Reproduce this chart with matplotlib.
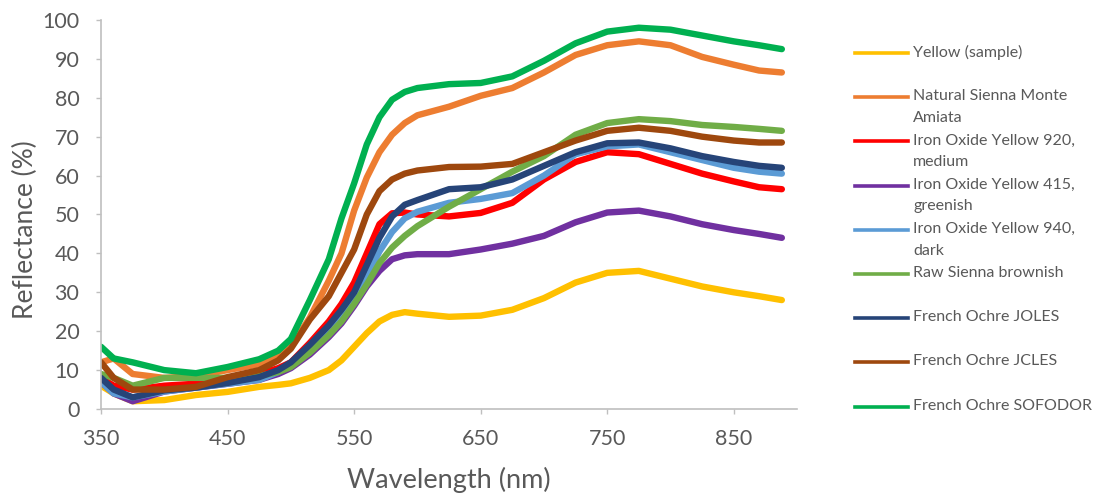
import matplotlib
matplotlib.use("Agg")
import matplotlib.pyplot as plt
from matplotlib.lines import Line2D

# wavelength grid (nm) shared by all series
wavelength = [350, 360, 375, 400, 425, 450, 475, 490, 500, 515, 530, 540, 550, 560, 570,
              580, 590, 600, 625, 650, 675, 700, 725, 750, 775, 800, 825, 850, 870, 888]

yellow_sample = [6, 4, 2, 2.3, 3.6, 4.4, 5.7, 6.2, 6.6, 8, 10, 12.5, 16, 19.5, 22.5,
                 24.2, 24.9, 24.5, 23.7, 24, 25.5, 28.5, 32.5, 35, 35.5, 33.5, 31.5, 30, 29, 28]
natural_sienna = [12, 13, 9, 8, 8.5, 10, 11.5, 13.5, 16, 23.5, 33, 40, 51, 59.5, 66,
                  70.5, 73.5, 75.5, 77.7, 80.5, 82.5, 86.5, 91, 93.5, 94.5, 93.5, 90.5, 88.5, 87, 86.5]
iron_920 = [8, 6, 5, 6, 6.5, 7.5, 9, 10.5, 12, 17, 22.5, 27, 32.5, 40, 47.5,
            50.3, 50.5, 50, 49.5, 50.4, 53, 59, 63.5, 66, 65.5, 63, 60.5, 58.5, 57, 56.5]
iron_415 = [7, 4, 2, 4.5, 5.5, 6.5, 7.5, 9, 10.5, 14, 18.5, 22, 26.5, 31.5, 35.5,
            38.5, 39.5, 39.8, 39.8, 41, 42.5, 44.5, 48, 50.5, 51, 49.5, 47.5, 46, 45, 44]
iron_940 = [7, 4, 3, 4.5, 5.5, 6.5, 7.5, 9.5, 11.5, 15.5, 20, 24, 28.5, 34, 40.5,
            45.5, 49, 50.7, 53, 54, 55.5, 60, 65.5, 67.5, 68, 66, 64, 62, 61, 60.5]
raw_sienna = [9, 8, 6, 8, 8, 8, 8.5, 9.5, 10.8, 14.5, 19, 22.5, 27, 32, 37.5,
              41.5, 44.5, 47, 52, 56.5, 61, 65, 70.5, 73.5, 74.5, 74, 73, 72.5, 72, 71.5]
ochre_joles = [8, 5, 3, 4.8, 5.5, 6.7, 8.2, 10, 12, 16.5, 21.5, 25.5, 30, 37, 44,
               49.5, 52.5, 53.7, 56.5, 57, 59, 62.5, 66, 68.3, 68.5, 67, 65, 63.5, 62.5, 62]
ochre_jcles = [12, 8, 5, 5, 5.7, 8.2, 10, 12.5, 15.5, 23, 29, 35, 41, 50, 56,
               59, 60.5, 61.3, 62.2, 62.3, 63, 66, 69, 71.5, 72.3, 71.5, 70, 69, 68.5, 68.5]
ochre_sofodor = [16, 13, 12, 10, 9.2, 10.8, 12.8, 15, 18, 28, 38.5, 49, 58, 68, 75,
                 79.5, 81.5, 82.5, 83.5, 83.8, 85.5, 89.5, 94, 97, 98, 97.5, 96, 94.5, 93.5, 92.5]

series_labels = ["Yellow (sample)", "Natural Sienna Monte\nAmiata",
                 "Iron Oxide Yellow 920,\nmedium", "Iron Oxide Yellow 415,\ngreenish",
                 "Iron Oxide Yellow 940,\ndark", "Raw Sienna brownish",
                 "French Ochre JOLES", "French Ochre JCLES", "French Ochre SOFODOR"]
series_values = [yellow_sample, natural_sienna, iron_920, iron_415, iron_940,
                 raw_sienna, ochre_joles, ochre_jcles, ochre_sofodor]
series_colors = ["#FFC000", "#ED7D31", "#FF0000", "#7030A0", "#5B9BD5",
                 "#70AD47", "#264478", "#9E480E", "#00B050"]

x_ticks = [350, 450, 550, 650, 750, 850]
y_ticks = list(range(0, 101, 10))

plt.rcParams["font.family"] = ["Lato", "DejaVu Sans"]
text_gray = "#595959"
axis_gray = "#BFBFBF"

fig = plt.figure(figsize=(11.03, 4.95), dpi=100)
ax = fig.add_axes([0.0916, 0.1737, 0.631, 0.786])

for vals, col in zip(series_values, series_colors):
    ax.plot(wavelength, vals, color=col, lw=4.6, solid_capstyle="round",
            solid_joinstyle="round")

ax.set_xlim(350, 900)
ax.set_ylim(0, 100)
ax.set_xticks(x_ticks)
ax.set_yticks(y_ticks)
ax.tick_params(axis="both", direction="out", length=3.6, width=1, color=axis_gray,
               labelcolor=text_gray, labelsize=15.5)
ax.tick_params(axis="y", pad=12)
ax.tick_params(axis="x", pad=11)
for side in ("top", "right"):
    ax.spines[side].set_visible(False)
for side in ("left", "bottom"):
    ax.spines[side].set_color(axis_gray)
    ax.spines[side].set_linewidth(1.2)

ax.set_xlabel("Wavelength (nm)", fontsize=19.5, color=text_gray)
ax.set_ylabel("Reflectance (%)", fontsize=19, color=text_gray)
ax.xaxis.set_label_coords(0.5, -0.183)
ax.yaxis.set_label_coords(-0.109, 0.46)
ax.xaxis.label.set_va("center")
ax.yaxis.label.set_va("center")

# legend drawn by hand so the key line sits level with the first text line
top_px, step_px = 53, 44.2
W, H = 1103, 495
for i, (lab, col) in enumerate(zip(series_labels, series_colors)):
    yc = 1 - (top_px + i * step_px) / H
    fig.add_artist(Line2D([855 / W, 908 / W], [yc, yc], color=col, lw=2.6,
                          transform=fig.transFigure))
    fig.text(913 / W, yc + 8 / H, lab, fontsize=11.5, color=text_gray, va="top",
             ha="left", linespacing=1.7, transform=fig.transFigure)

fig.savefig("out.png", dpi=100)
